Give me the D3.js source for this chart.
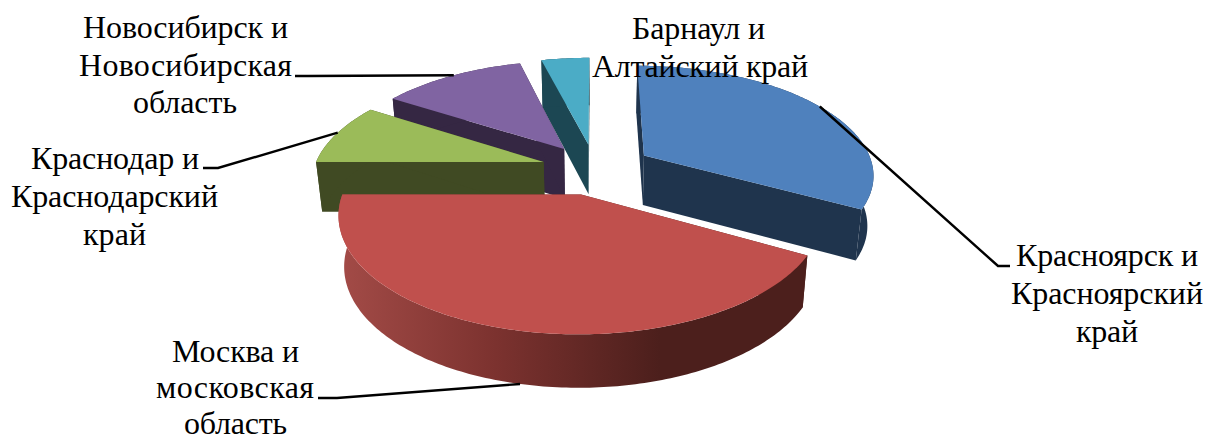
<!DOCTYPE html>
<html><head><meta charset="utf-8">
<style>html,body{margin:0;padding:0;background:#fff}svg{display:block}</style>
<script src="https://cdn.jsdelivr.net/npm/d3@7"></script></head>
<body><svg id="c" width="1209" height="441"></svg>
<script>
const categories=["Красноярск и Красноярский край","Москва и московская область","Краснодар и Краснодарский край","Новосибирск и Новосибирская область","Барнаул и Алтайский край"];
const values=[33,42,9,12,4];
const topColors=["#4f81bd","#c0504d","#9bbb59","#8064a2","#4bacc6"];
const sideColors=["#1f344d","url(#redSide)","#404a23","#352743","#1c4753"];
// label lines: text, left x, width, baseline
const labelLines=[
 [["Красноярск и",1016,182,266],["Красноярский",1011,192,304],["край",1076,62,342]],
 [["Москва и",172,127,362],["московская",156,158,398],["область",184,103,434]],
 [["Краснодар и",31,168,169],["Краснодарский",11,207,207],["край",83,63,245]],
 [["Новосибирск и",83,205,38],["Новосибирская",79,213,76],["область",133,104,113]],
 [["Барнаул и",632,133,39],["Алтайский край",592,216,77]]
];
const leaderFrac=[0.5,0.485,0.52,0.52,null];
const leaderElbows=[[[998,266],[1010,266]],[[337,398],[318,398]],[[218,168],[203,168]],[[308,76],[295,76]],null];
const explodes=[58,54,54,54,54];

const cx=595,cy=169,R=230,tilt=0.47,persp=0.0007,depth=50,taper=0.022;
const svg=d3.select("#c");
const defs=svg.append("defs");
const g=defs.append("linearGradient").attr("id","redSide").attr("gradientUnits","userSpaceOnUse")
 .attr("x1",340).attr("x2",810).attr("y1",0).attr("y2",0);
[[0,"#a34b47"],[0.33,"#7c322f"],[0.68,"#4c1f1c"],[1,"#4c1f1c"]].forEach(s=>g.append("stop").attr("offset",s[0]).attr("stop-color",s[1]));

const pie=d3.pie().sort(null).value(d=>d);
const arcs=pie(values);
function proj(theta,r,bis,z,e){
 const X=r*Math.sin(theta)+e*Math.sin(bis);
 const Y=-r*Math.cos(theta)-e*Math.cos(bis);
 const s=1/(1-Y*persp);
 return [cx+X*s*(1-taper*z),cy+Y*tilt*s+z*depth*Math.pow(s,0.3)];
}
const line=d3.line();
function rim(a,z,bis,e){
 const n=Math.max(8,Math.ceil((a.endAngle-a.startAngle)*60));
 return d3.range(n+1).map(i=>proj(a.startAngle+(a.endAngle-a.startAngle)*i/n,R,bis,z,e));
}
const order=[4,3,2,0,1];
order.forEach(i=>{
 const a=arcs[i],b=(a.startAngle+a.endAngle)/2,e=explodes[i];
 const G=svg.append("g");
 const t=rim(a,0,b,e),u=rim(a,1,b,e);
 const c0=proj(0,0,b,0,e),c1=proj(0,0,b,1,e);
 const side=sideColors[i];
 G.append("path").attr("d",line([c0,t[0],u[0],c1])+"Z").attr("fill",side);
 G.append("path").attr("d",line([c0,t[t.length-1],u[u.length-1],c1])+"Z").attr("fill",side);
 G.append("path").attr("d",line(t.concat(u.slice().reverse()))+"Z").attr("fill",side);
 G.append("path").attr("d",line([c0].concat(t))+"Z").attr("fill",topColors[i]);
});
const leaders=svg.append("g").attr("fill","none").attr("stroke","#000").attr("stroke-width",2.4);
arcs.forEach((a,i)=>{
 if(leaderElbows[i]==null)return;
 const b=(a.startAngle+a.endAngle)/2;
 const th=a.startAngle+(a.endAngle-a.startAngle)*leaderFrac[i];
 const p=proj(th,R,b,i===1?1:0,explodes[i]);
 leaders.append("path").attr("d",line([p].concat(leaderElbows[i])));
});
const txt=svg.append("g").attr("font-family","'Liberation Serif'").attr("font-size",32).attr("fill","#000");
labelLines.forEach(ls=>ls.forEach(l=>{
 txt.append("text").attr("x",l[1]).attr("y",l[3]).attr("textLength",l[2]).attr("lengthAdjust","spacing").text(l[0]);
}));
</script></body></html>
